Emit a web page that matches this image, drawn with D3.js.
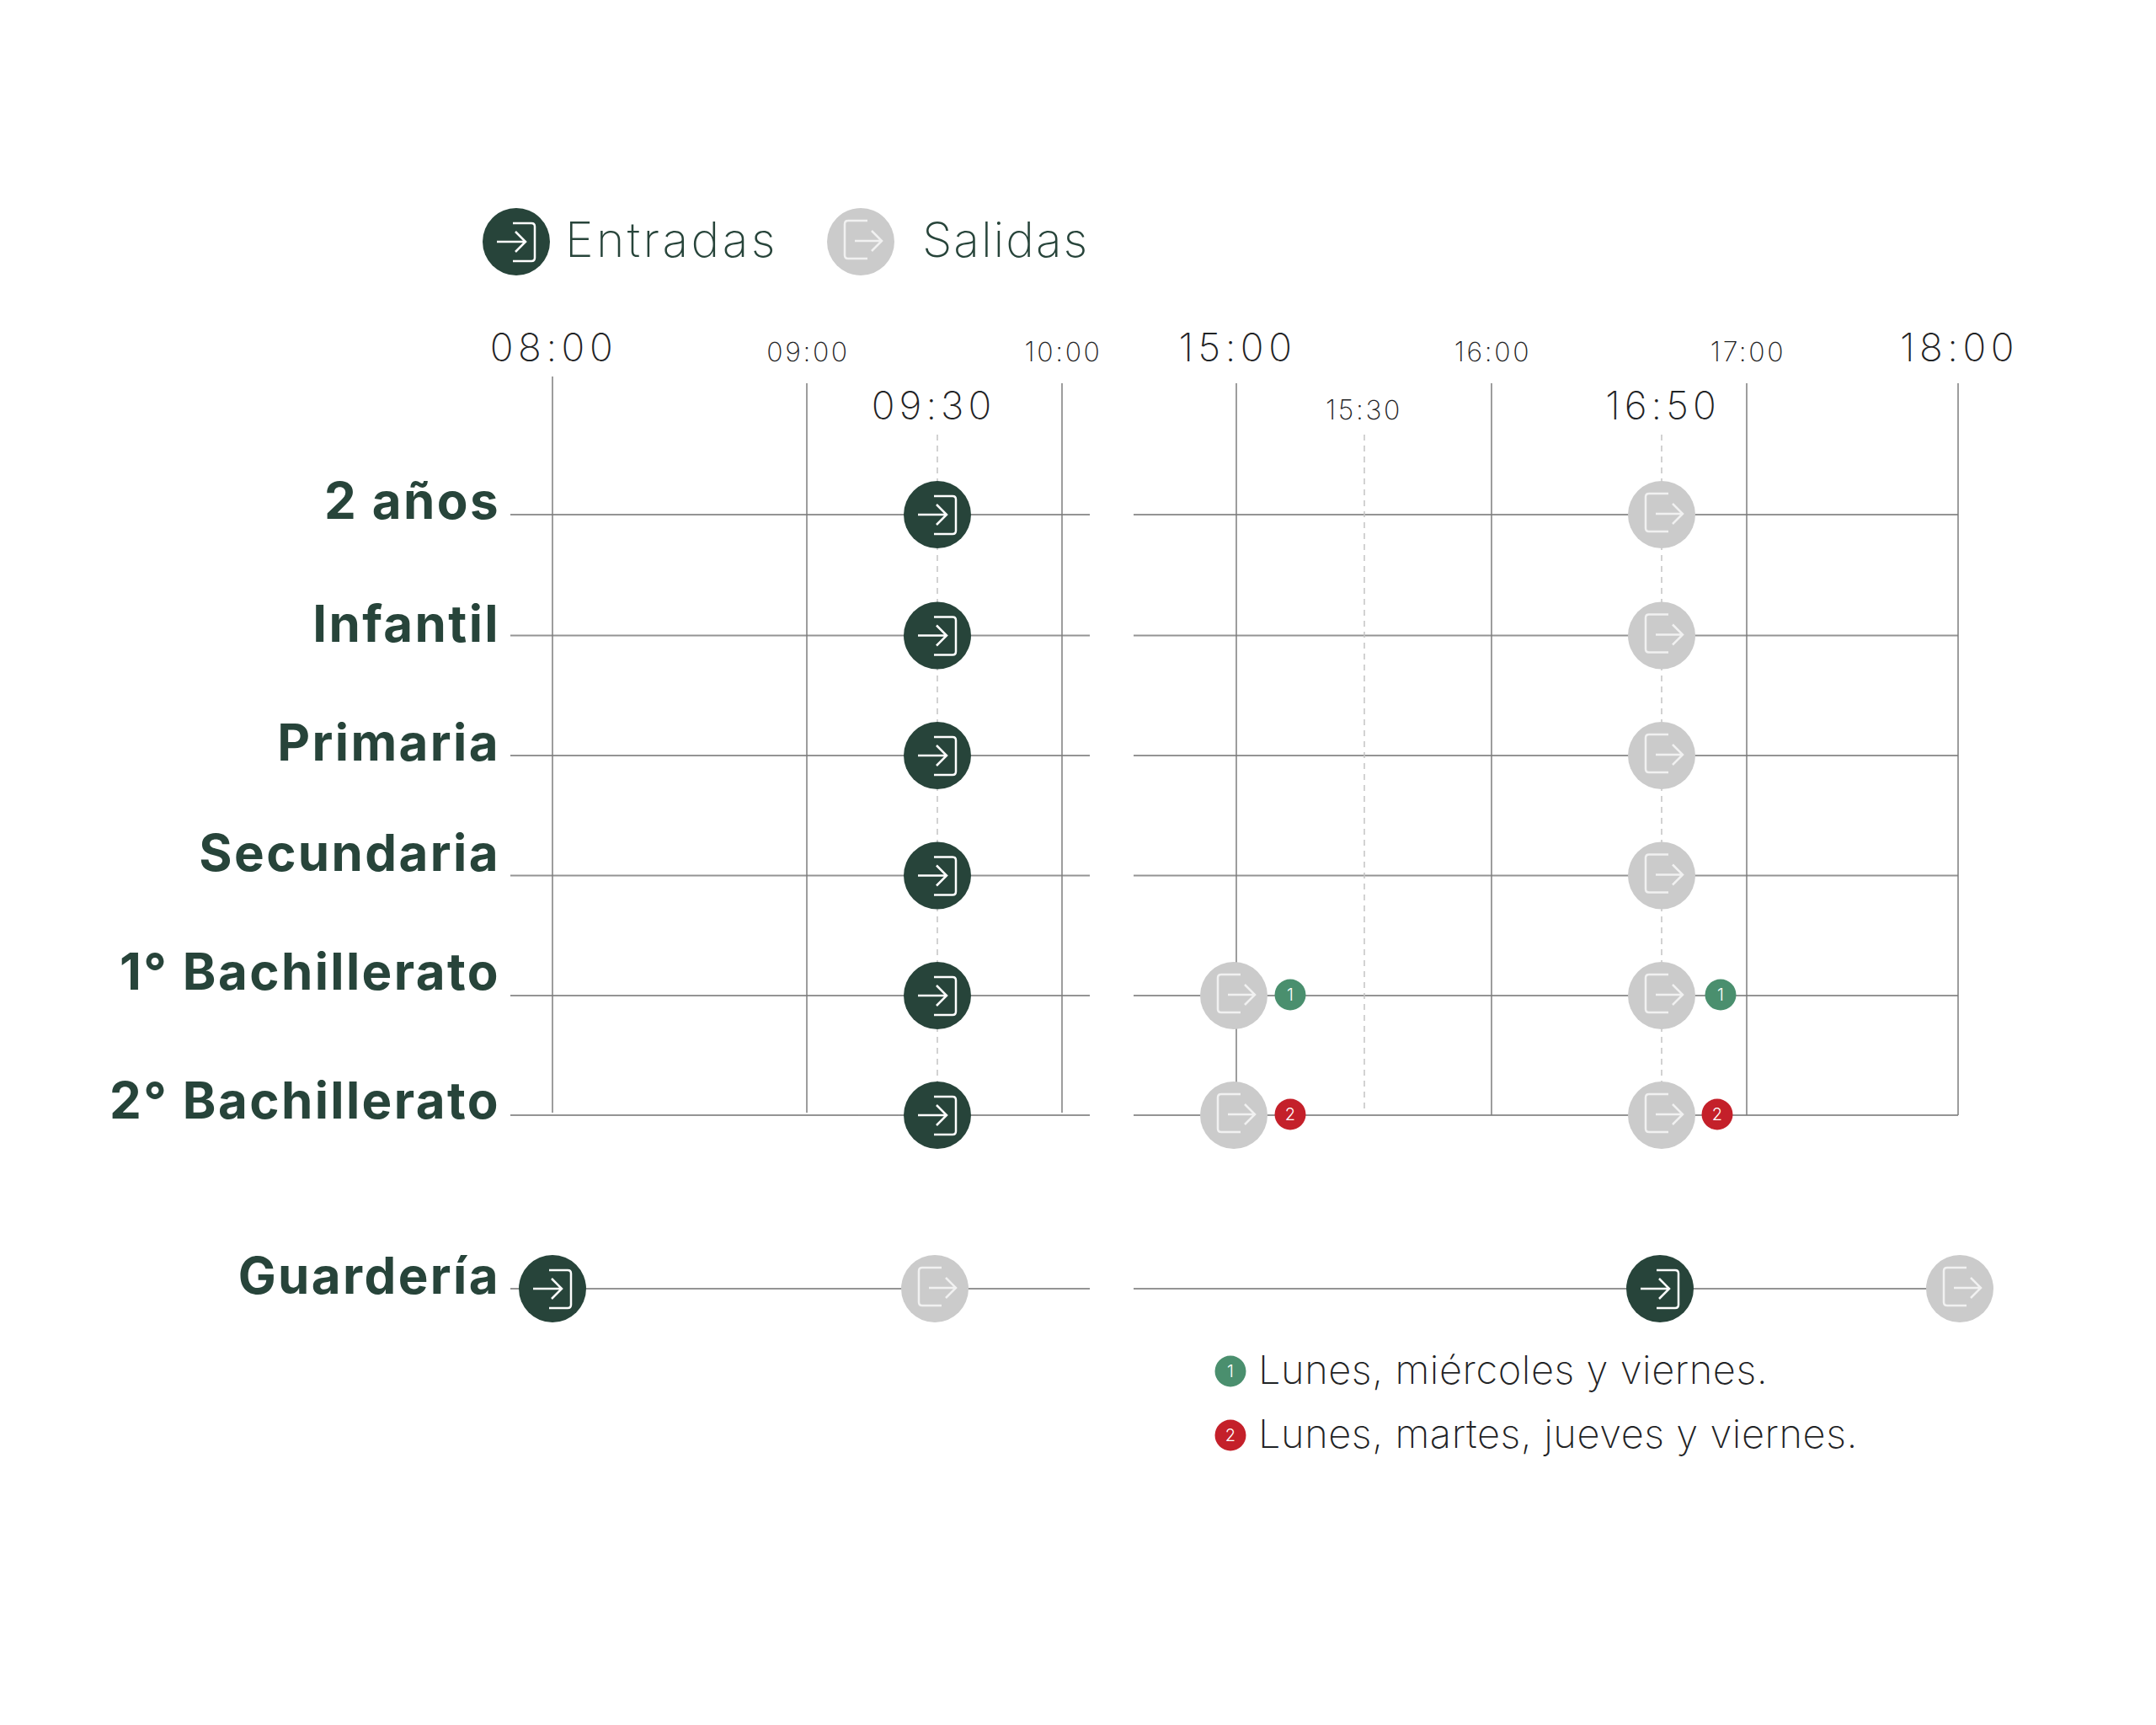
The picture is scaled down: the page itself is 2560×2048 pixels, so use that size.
<!DOCTYPE html>
<html>
<head>
<meta charset="utf-8">
<script src="https://cdn.jsdelivr.net/npm/d3@7"></script>
<style>
body{margin:0;background:#fff}
text{font-family:Inter,"Open Sans",sans-serif}
</style>
</head>
<body>
<svg id="chart" width="2560" height="2048"></svg>
<script>
var niveles=['2 años','Infantil','Primaria','Secundaria','1° Bachillerato','2° Bachillerato']
var guarderia='Guardería'
var horasManana=['08:00','09:00','09:30','10:00']
var horasTarde=['15:00','15:30','16:00','16:50','17:00','18:00']
var ticksGrandes=['08:00','15:00','18:00']
var ticksPeque=['09:00','10:00','16:00','17:00']
var ticksBajos=['09:30','16:50']
var ticksBajosPeque=['15:30']
var gridContinuo=['09:00','10:00','15:00','16:00','17:00','18:00','08:00']
var gridDiscontinuo=['09:30','15:30','16:50']
var entradaNivel='09:30'
var salidaNivel='16:50'
// salidas extra y nota de dias
var salidasExtra=[['1° Bachillerato','15:00',1],['2° Bachillerato','15:00',2]]
var notasSalida=[['1° Bachillerato','16:50',1],['2° Bachillerato','16:50',2]]
var guarderiaEntradas=['08:00','16:50']
var guarderiaSalidas=['09:30','18:00']
var notas=['Lunes, miércoles y viernes.','Lunes, martes, jueves y viernes.']
var colorNota=['#4a8f6e','#c4202a']

var oscuro='#27443a', gris='#cbcbcb', tickClr='#1f2325'
var svg=d3.select('#chart')

// the picture's time axis is not linear, so the hours are mapped slot by slot
var xM=d3.scaleOrdinal().domain(horasManana).range([656,958,1113,1261])
var xT=d3.scaleOrdinal().domain(horasTarde).range([1468,1620,1771,1973,2074,2325])
var x=(h)=>horasManana.includes(h)?xM(h):xT(h)
var y=d3.scaleOrdinal().domain(niveles.concat([guarderia])).range([611,754.5,897,1039.5,1182,1324,1530])
var labelDy=d3.scaleOrdinal().domain(niveles.concat([guarderia])).range([5,7,6,-6,-7,4,6])
var guardDx=d3.scaleOrdinal().domain(['08:00','09:30','16:50','18:00']).range([0,-3,-2,2])

// horizontal lines
var lineas=svg.append('g').attr('stroke','#949494').attr('stroke-width',2)
niveles.concat([guarderia]).forEach(function(n){
	lineas.append('line').attr('x1',606).attr('x2',1294).attr('y1',y(n)).attr('y2',y(n))
	lineas.append('line').attr('x1',1346).attr('x2',2325).attr('y1',y(n)).attr('y2',y(n))
})

// vertical grid
svg.append('g').selectAll('line')
.data(gridContinuo)
.enter()
.append('line')
.attr('x1',x).attr('x2',x)
.attr('y1',(d)=>d=='08:00'?447:455)
.attr('y2',(d)=>xM.domain().includes(d)?1321:1324)
.attr('stroke','#7d7d7d')
.attr('stroke-width',1.5)

svg.append('g').selectAll('line')
.data(gridDiscontinuo)
.enter()
.append('line')
.attr('x1',x).attr('x2',x)
.attr('y1',516)
.attr('y2',(d)=>d=='16:50'?1300:1321)
.attr('stroke','#c4c4c4')
.attr('stroke-width',1.5)
.attr('stroke-dasharray','7 6')

// time labels
function drawAxis(scale,vals,top,size,spacing){
	var g=svg.append('g')
	.attr('transform','translate(0,'+top+')')
	.call(d3.axisTop(scale).tickValues(vals).tickSize(0).tickPadding(0))
	g.select('.domain').remove()
	g.selectAll('text')
	.attr('font-family','Inter')
	.attr('font-size',size)
	.attr('font-weight',200)
	.attr('letter-spacing',spacing)
	.attr('fill',tickClr)
	.attr('dx',(d)=>d=='09:30'?-5:d=='15:30'?-1:1)
}
function dentro(dom,vals){return vals.filter((v)=>dom.includes(v))}
;[xM,xT].forEach(function(s){
	drawAxis(s,dentro(s.domain(),ticksGrandes),429,46,5.5)
	drawAxis(s,dentro(s.domain(),ticksPeque),429,32,2.6)
	drawAxis(s,dentro(s.domain(),ticksBajos),498,46,5)
	drawAxis(s,dentro(s.domain(),ticksBajosPeque),498,32,2.6)
})

// icons
function entrada(g,cx,cy){
	var m=g.append('g').attr('transform','translate('+cx+','+cy+')')
	m.append('circle').attr('r',40).attr('fill',oscuro)
	m.append('path').attr('d','M-4,-22H18q4,0 4,4V19q0,4 -4,4H-4M-23,0H11M-1,-12L11,0L-1,12')
	.attr('fill','none').attr('stroke','#fff').attr('stroke-width',2.5)
}
function salida(g,cx,cy){
	var m=g.append('g').attr('transform','translate('+cx+','+cy+')')
	m.append('circle').attr('r',40).attr('fill',gris)
	m.append('path').attr('d','M8,-25H-15q-4,0 -4,4V16q0,4 4,4H8M-7,-1H25M13,-13L25,-1L13,11')
	.attr('fill','none').attr('stroke','#f1f1f1').attr('stroke-width',2.5)
}
function nota(g,cx,cy,i){
	g.append('circle').attr('cx',cx).attr('cy',cy).attr('r',18.5).attr('fill',colorNota[i-1])
	g.append('text').attr('x',cx).attr('y',cy+7).attr('text-anchor','middle')
	.attr('font-size',20).attr('fill','#fff').attr('font-weight',300).text(i)
}

var marcas=svg.append('g')
niveles.forEach(function(n){
	entrada(marcas,x(entradaNivel),y(n))
	salida(marcas,x(salidaNivel),y(n))
})
salidasExtra.forEach(function(d){
	salida(marcas,x(d[1])-3,y(d[0]))
	nota(marcas,x(d[1])+64,y(d[0])-1,d[2])
})
notasSalida.forEach(function(d){
	nota(marcas,x(d[1])+(d[2]==1?70:66),y(d[0])-1,d[2])
})
guarderiaEntradas.forEach((h)=>entrada(marcas,x(h)+guardDx(h),y(guarderia)))
guarderiaSalidas.forEach((h)=>salida(marcas,x(h)+guardDx(h),y(guarderia)))

// row labels
svg.append('g').selectAll('text')
.data(niveles.concat([guarderia]))
.enter()
.append('text')
.attr('x',594)
.attr('y',(d)=>y(d)+labelDy(d))
.attr('text-anchor','end')
.attr('font-size',60)
.attr('font-weight',700)
.attr('letter-spacing',2.4)
.attr('fill',oscuro)
.text((d)=>d)

// top legend
entrada(svg,613,287)
svg.append('text').attr('x',671).attr('y',305).attr('font-size',57).attr('font-weight',200)
.attr('letter-spacing',3.4).attr('fill',oscuro).text('Entradas')
salida(svg,1022,287)
svg.append('text').attr('x',1095).attr('y',305).attr('font-size',57).attr('font-weight',200)
.attr('letter-spacing',1.9).attr('fill',oscuro).text('Salidas')

// bottom legend
notas.forEach(function(t,i){
	var base=[1643,1719][i]
	nota(svg,1461,base-15,i+1)
	svg.append('text').attr('x',1494).attr('y',base).attr('font-size',47).attr('font-weight',200)
	.attr('letter-spacing',0.55).attr('fill',tickClr).text(t)
})
</script>
</body>
</html>
